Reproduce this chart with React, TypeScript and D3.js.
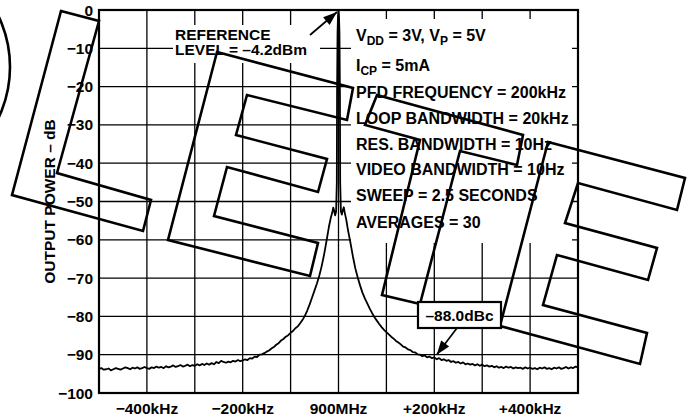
import React, { useEffect } from 'react';
import * as d3 from 'd3';

// x axis: offset from the 900MHz carrier, kHz
const xDomain = [-500, 500];
const xGrid = [-500, -400, -300, -200, -100, 0, 100, 200, 300, 400, 500];
const xTicks = [-400, -200, 0, 200, 400];
const xTickLabels = ['−400kHz', '−200kHz', '900MHz', '+200kHz', '+400kHz'];

// y axis: output power, dB
const yTicks = [0, -10, -20, -30, -40, -50, -60, -70, -80, -90, -100];
const yTickLabels = ['0', '−10', '−20', '−30', '−40', '−50', '−60', '−70', '−80', '−90', '−100'];

// spectrum trace
const offsetKHz = [
  -500, -495, -490, -485, -480, -475, -470, -465, -460, -455, -450, -445, -440, -435, -430, -425,
  -420, -415, -410, -405, -400, -395, -390, -385, -380, -375, -370, -365, -360, -355, -350, -345,
  -340, -335, -330, -325, -320, -315, -310, -305, -300, -295, -290, -285, -280, -275, -270, -265,
  -260, -255, -250, -245, -240, -235, -230, -225, -220, -215, -210, -205, -200, -195, -190, -185,
  -180, -175, -170, -165, -160, -155, -150, -145, -140, -135, -130, -125, -120, -115, -110, -105,
  -100, -95, -90, -85, -80, -75, -70, -65, -60, -55, -50, -45, -40, -35, -30, -25, -20, -16, -13,
  -11, -9, -7, -5, -3.5, -3, -2, -1, 0, 1, 2, 3, 3.5, 5, 7, 9, 11, 13, 16, 20, 25, 30, 35, 40, 45,
  50, 55, 60, 65, 70, 75, 80, 85, 90, 95, 100, 105, 110, 115, 120, 125, 130, 135, 140, 145, 150,
  155, 160, 165, 170, 175, 180, 185, 190, 195, 200, 205, 210, 215, 220, 225, 230, 235, 240, 245,
  250, 255, 260, 265, 270, 275, 280, 285, 290, 295, 300, 305, 310, 315, 320, 325, 330, 335, 340,
  345, 350, 355, 360, 365, 370, 375, 380, 385, 390, 395, 400, 405, 410, 415, 420, 425, 430, 435,
  440, 445, 450, 455, 460, 465, 470, 475, 480, 485, 490, 495, 500,
];
const powerDb = [
  -93.7, -93.5, -93.9, -93.8, -93.6, -94.1, -93.8, -93.5, -93.7, -93.9, -93.6, -93.3, -93.5, -93.8, -93.4, -93.6,
  -93.3, -93.7, -93.5, -93.2, -93.5, -93.7, -93.3, -93.5, -93.1, -93.4, -93.2, -93.5, -93.0, -93.3, -93.1, -92.8,
  -93.2, -93.0, -92.7, -93.1, -92.9, -92.6, -93.0, -92.7, -92.9, -92.5, -92.8, -92.4, -92.7, -92.3, -92.6, -92.2,
  -92.5, -91.9, -92.2, -91.6, -91.9, -92.1, -91.8, -92.0, -91.6, -91.8, -91.4, -91.7, -91.5, -91.2, -91.4, -90.9,
  -91.0, -90.5, -90.6, -90.0, -89.9, -89.6, -89.2, -88.9, -88.4, -88.0, -87.4, -87.0, -86.3, -85.9, -85.3, -84.9,
  -84.3, -83.8, -83.1, -82.6, -81.8, -80.9, -79.8, -78.4, -76.8, -75.0, -73.2, -71.4, -69.3, -66.8, -63.8, -60.3, -56.6, -54.2, -52.9,
  -51.6, -52.4, -53.6, -52.6, -45, -22, -6, -1.5, 0, -1.5, -6, -22, -45, -52.6, -53.4, -52.3, -51.5, -52.9, -54.6, -57.6, -60.8, -64.3, -67.4, -69.8, -71.9,
  -73.8, -75.3, -76.6, -77.9, -79.1, -80.2, -81.1, -82.0, -82.8, -83.5, -84.1, -84.7, -85.3, -85.8, -86.4, -86.8, -87.3, -87.9, -88.1, -88.6, -88.8,
  -89.3, -89.4, -89.9, -90.0, -90.4, -90.2, -90.7, -90.5, -90.9, -90.7, -91.2, -90.9, -91.4, -91.2, -91.6, -91.4, -91.9, -91.7, -92.1,
  -91.9, -92.3, -92.0, -92.5, -92.3, -92.6, -92.4, -92.8, -92.5, -92.9, -92.6, -93.0, -92.8, -93.1, -92.9, -93.3, -93.0, -93.4, -93.2,
  -93.5, -93.1, -93.4, -93.2, -93.6, -93.3, -93.5, -93.4, -93.7, -93.3, -93.6, -93.4, -93.7, -93.5, -93.8, -93.4, -93.6, -93.3, -93.7,
  -93.5, -93.8, -93.4, -93.6, -93.3, -93.7, -93.5, -93.2, -93.6, -93.3, -93.5, -93.1, -93.3,
];

const conditionLines = [
  [['V'], ['DD', 1], [' = 3V, V'], ['P', 1], [' = 5V']],
  [['I'], ['CP', 1], [' = 5mA']],
  [['PFD FREQUENCY = 200kHz']],
  [['LOOP BANDWIDTH = 20kHz']],
  [['RES. BANDWIDTH = 10Hz']],
  [['VIDEO BANDWIDTH = 10Hz']],
  [['SWEEP = 2.5 SECONDS']],
  [['AVERAGES = 30']],
];
const conditionBaselines = [41, 70.5, 98, 124, 149.5, 175, 201, 227.5];

const refLabel = ['REFERENCE', 'LEVEL = –4.2dBm'];
const markerLabel = '–88.0dBc';
const markerOffsetKHz = 205;
const markerDb = -90;

// "OBSOLETE" stencil outlines laid across the page (pixel space)
const stampL = [[61, 11], [99, 21], [57, 173], [151, 200], [143, 231], [12, 195]];
const stampE1 = [[217, 52], [353, 88], [347, 120], [247, 95], [236, 135], [327, 159], [318, 192], [227, 167], [214, 216], [318, 243], [310, 276], [168, 240]];
const stampT = [[377, 95], [523, 135], [517, 165], [460, 151], [420, 304], [382, 295], [420, 140], [365, 125]];
const stampE2 = [[548, 142], [685, 178], [677, 210], [578, 183], [565, 223], [657, 248], [648, 280], [557, 255], [543, 305], [647, 333], [640, 364], [500, 326]];

const W = 696;
const H = 419;
const m = { t: 10, r: 118, b: 26, l: 99 };
const FONT = '"Liberation Sans", Arial, Helvetica, sans-serif';

function arrowHead(x1: number, y1: number, x2: number, y2: number, len = 14, half = 5) {
  const a = Math.atan2(y2 - y1, x2 - x1);
  const bx = x2 - len * Math.cos(a);
  const by = y2 - len * Math.sin(a);
  const px = -Math.sin(a) * half;
  const py = Math.cos(a) * half;
  return `${x2},${y2} ${bx + px},${by + py} ${bx - px},${by - py}`;
}

export default function App() {
  useEffect(() => {
    document.body.style.margin = '0';
  }, []);

  const x = d3.scaleLinear().domain(xDomain).range([m.l, W - m.r]);
  const y = d3.scaleLinear().domain([-100, 0]).range([H - m.b, m.t]);

  const pts = offsetKHz.map((f, i) => [f, powerDb[i]] as [number, number]);
  const line = d3.line<[number, number]>().x(d => x(d[0])).y(d => y(d[1]));

  const x0 = m.l, x1 = W - m.r, y0 = m.t, y1 = H - m.b;

  // top arrow to the carrier peak
  const pk = { x: x(0) - 1.5, y: y(0) + 2 };
  const pkFrom = { x: pk.x - 27, y: pk.y + 23 };

  // marker box & arrow
  const mk = { x: x(markerOffsetKHz), y: y(markerDb) };
  const box = { x: 418, y: 302, w: 83, h: 26 };
  const mkFrom = { x: 457, y: box.y + box.h };

  const poly = (p: number[][]) => p.map(q => q.join(',')).join(' ');

  return (
    <svg width={W} height={H} viewBox={`0 0 ${W} ${H}`} style={{ display: 'block', fontFamily: FONT }}>
      <rect width={W} height={H} fill="#fff" />

      {/* grid */}
      <g stroke="#000" strokeWidth={1.3}>
        {xGrid.map(v => <line key={'gx' + v} x1={x(v)} x2={x(v)} y1={y0} y2={y1} />)}
        {yTicks.map(v => <line key={'gy' + v} x1={x0} x2={x1} y1={y(v)} y2={y(v)} />)}
      </g>

      {/* white panels behind the annotations */}
      <rect x={173} y={25} width={147} height={38} fill="#fff" />
      <rect x={351} y={19} width={221} height={224} fill="#fff" />

      {/* trace */}
      <path d={line(pts) || ''} fill="none" stroke="#000" strokeWidth={1.8} strokeLinejoin="round" />

      {/* frame */}
      <rect x={x0} y={y0} width={x1 - x0} height={y1 - y0} fill="none" stroke="#000" strokeWidth={2.2} />

      {/* axis labels */}
      <g fontSize={15.5} fontWeight="bold" fill="#000">
        {yTicks.map((v, i) => (
          <text key={'yl' + v} x={93} y={y(v) + 5.5} textAnchor="end">{yTickLabels[i]}</text>
        ))}
        {xTicks.map((v, i) => (
          <text key={'xl' + v} x={x(v)} y={414} textAnchor="middle">{xTickLabels[i]}</text>
        ))}
        <text transform={`translate(55,${(y0 + y1) / 2}) rotate(-90)`} textAnchor="middle">OUTPUT POWER – dB</text>
      </g>

      {/* test conditions */}
      <g fontSize={16} fontWeight="bold" fill="#000">
        {conditionLines.map((segs, i) => (
          <text key={'c' + i} x={356} y={conditionBaselines[i]}>
            {segs.map((s, j) => {
              const sub = s[1] === 1;
              const prevSub = j > 0 && segs[j - 1][1] === 1;
              const dy = sub && !prevSub ? 4 : !sub && prevSub ? -4 : 0;
              return (
                <tspan key={j} dy={dy} fontSize={sub ? 12 : 16}>{s[0] as string}</tspan>
              );
            })}
          </text>
        ))}
      </g>
      <g fontSize={15.5} fontWeight="bold" fill="#000">
        <text x={175} y={39.5}>{refLabel[0]}</text>
        <text x={175} y={55}>{refLabel[1]}</text>
      </g>

      {/* reference arrow */}
      <line x1={pkFrom.x} y1={pkFrom.y} x2={pk.x} y2={pk.y} stroke="#000" strokeWidth={1.7} />
      <polygon points={arrowHead(pkFrom.x, pkFrom.y, pk.x, pk.y)} fill="#000" />

      {/* stencil */}
      <g fill="none" stroke="#000" strokeWidth={2.6} strokeLinejoin="miter">
        <circle cx={-108} cy={67} r={118} />
        <polygon points={poly(stampL)} />
        <polygon points={poly(stampE1)} />
        <polygon points={poly(stampT)} />
        <polygon points={poly(stampE2)} />
      </g>

      {/* marker */}
      <line x1={mkFrom.x} y1={mkFrom.y} x2={mk.x} y2={mk.y} stroke="#000" strokeWidth={1.7} />
      <polygon points={arrowHead(mkFrom.x, mkFrom.y, mk.x, mk.y)} fill="#000" />
      <rect x={box.x} y={box.y} width={box.w} height={box.h} fill="#fff" stroke="#000" strokeWidth={2.2} />
      <text x={box.x + box.w / 2} y={box.y + 18.5} textAnchor="middle" fontSize={15.5} fontWeight="bold">{markerLabel}</text>
    </svg>
  );
}
